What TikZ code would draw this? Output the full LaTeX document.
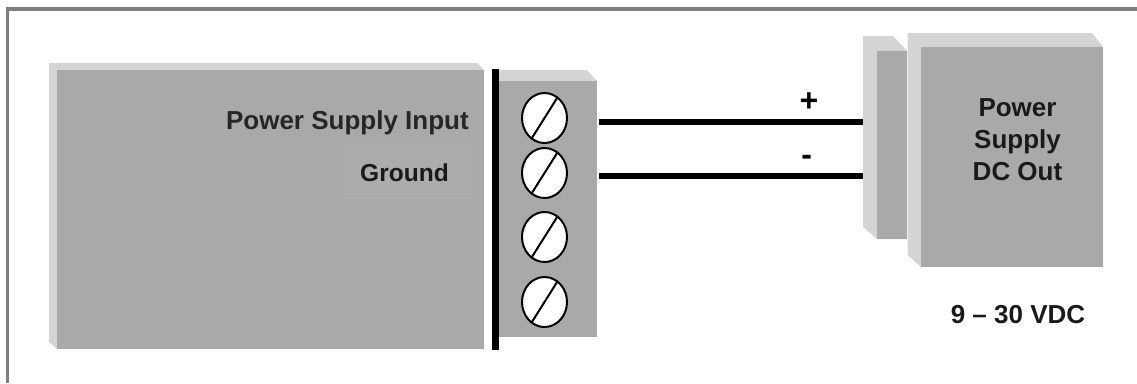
\documentclass[tikz,border=0pt]{standalone}
\usepackage{fontspec}
\usepackage{graphicx}
\setmainfont{Liberation Sans}
\usetikzlibrary{calc}
\definecolor{facegray}{HTML}{A9A9A9}
\definecolor{litegray}{HTML}{D4D4D4}
\definecolor{gndgray}{HTML}{ACACAC}
\definecolor{framegray}{HTML}{808080}
\definecolor{txtdark}{HTML}{1A1A1A}
\tikzset{
  face/.style={fill=facegray},
  lite/.style={fill=litegray},
  screw/.style={draw=black, line width=1.5pt, fill=white},
  slot/.style={draw=black, line width=1.5pt},
  wire/.style={draw=black, line width=3.9pt},
  lbl/.style={inner sep=0pt, text=txtdark, font=\fontsize{19.5}{24}\selectfont\bfseries},
  sign/.style={inner sep=0pt, text=black, font=\fontsize{24}{28}\selectfont\bfseries},
  bar/.style={fill=black},
  frame/.style={draw=framegray, line width=2.4pt}
}
\begin{document}
\begin{tikzpicture}[x=0.75pt,y=-0.75pt]
\useasboundingbox (0,0) rectangle (1137,383);
% frame
\draw[frame] (7.5,383) -- (7.5,9) -- (1137,9);
% left unit (power supply input)
\fill[lite] (49,63) -- (477,63) -- (484,70) -- (484,349) -- (57,349) -- (49,342) -- cycle;
\fill[face] (57,70) rectangle (484,349);
\fill[fill=gndgray] (344,143) rectangle (472,199);
\node[lbl, anchor=base east, text=black!85] (psin) at (469,129.5) {Power Supply Input};
\node[lbl, anchor=base east, font=\fontsize{18.4}{22}\selectfont\bfseries] (gnd) at (449,181.7) {Ground};
% black bar
\fill[bar] (492,69) rectangle (499,350);
% terminal block
\fill[lite] (499,70) -- (587,70) -- (597,81) -- (499,81) -- cycle;
\fill[face] (499,81) rectangle (597,337);
\foreach \y/\n in {118/s1,173/s2,237/s3,302/s4}{
  \coordinate (\n) at (544.5,\y);
  \draw[screw] (\n) ellipse [x radius=22.5, y radius=25];
  \draw[slot] ($(\n)+(-55:22.5 and 25)$) -- ($(\n)+(125:22.5 and 25)$);
}
% output connector
\fill[lite] (863,36) -- (893,36) -- (907,51) -- (907,239) -- (877,239) -- (863,227) -- cycle;
\fill[face] (877,51) rectangle (907,239);
% power supply box
\fill[lite] (907.5,33) -- (1092,33) -- (1103,47) -- (1103,267) -- (921,267) -- (907.5,255) -- cycle;
\fill[face] (921,47) rectangle (1103,267);
\node[lbl, anchor=north, align=center] (psout) at (1017.5,98.7) {Power\\Supply\\DC Out};
\node[lbl, anchor=base] (volt) at (1018,323) {9 -- 30 VDC};
% wires
\coordinate (tp) at (599,122);
\coordinate (tn) at (599,176);
\coordinate (cp) at (863,122);
\coordinate (cn) at (863,176);
\draw[wire] (tp) -- (cp);
\draw[wire] (tn) -- (cn);
\node[sign] (plus) at (809,102.5) {+};
\node[sign] (minus) at (806.7,160.5) {-};
\end{tikzpicture}
\end{document}
